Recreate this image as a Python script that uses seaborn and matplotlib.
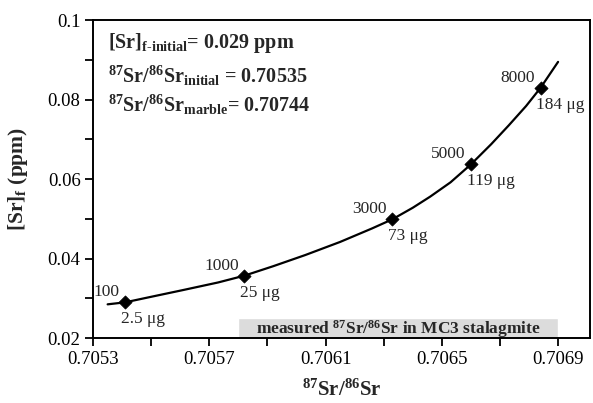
import matplotlib
matplotlib.use('Agg')
import matplotlib.pyplot as plt
from matplotlib.ticker import FixedLocator, FormatStrFormatter, MultipleLocator
import pandas as pd
import seaborn as sns

# mixing curve
curve_ratio = [0.70535, 0.70541, 0.70550, 0.70561, 0.70573, 0.70582, 0.70592,
               0.70603, 0.70615, 0.70626, 0.70633, 0.70640, 0.70646, 0.70653,
               0.70660, 0.70667, 0.70673, 0.70679, 0.70684, 0.70690]
curve_sr = [0.0285, 0.0290, 0.0304, 0.0321, 0.0340, 0.0357, 0.0381,
            0.0409, 0.0442, 0.0476, 0.0499, 0.0528, 0.0556, 0.0592,
            0.0637, 0.0688, 0.0735, 0.0784, 0.0830, 0.0895]

# marked points
pt_ratio = [0.70541, 0.70582, 0.70633, 0.70660, 0.70684]
pt_sr = [0.0290, 0.0357, 0.0499, 0.0637, 0.0830]
pt_top = ['100', '1000', '3000', '5000', '8000']
pt_bottom = ['2.5 \u03bcg', '25 \u03bcg', '73 \u03bcg', '119 \u03bcg', '184 \u03bcg']

measured_range = [0.70580, 0.70690]

x_ticks = [0.7053, 0.7057, 0.7061, 0.7065, 0.7069]
x_minor = [0.7055, 0.7059, 0.7063, 0.7067]

sns.set_style('ticks')
plt.rcParams['font.family'] = ['Liberation Serif', 'DejaVu Serif']
plt.rcParams['mathtext.fontset'] = 'custom'
plt.rcParams['mathtext.rm'] = 'Liberation Serif:bold'
plt.rcParams['mathtext.bf'] = 'Liberation Serif:bold'
plt.rcParams['mathtext.it'] = 'Liberation Serif:bold'
plt.rcParams['mathtext.default'] = 'bf'

curve = pd.DataFrame({'ratio': curve_ratio, 'sr': curve_sr})
pts = pd.DataFrame({'ratio': pt_ratio, 'sr': pt_sr})

fig, ax = plt.subplots(figsize=(5.93, 4.03), dpi=100)
fig.subplots_adjust(left=0.157, right=0.995, top=0.95, bottom=0.161)

# measured range bar
ax.barh(0.0225, measured_range[1] - measured_range[0], left=measured_range[0],
        height=0.005, color='#dcdcdc', zorder=1)
ax.text((measured_range[0] + measured_range[1]) / 2, 0.0224,
        r'measured $^{87}$Sr/$^{86}$Sr in MC3 stalagmite',
        ha='center', va='center', fontsize=12.5, fontweight='bold', zorder=2)

sns.lineplot(data=curve, x='ratio', y='sr', ax=ax, color='black', lw=1.6,
             sort=False, zorder=3)
sns.scatterplot(data=pts, x='ratio', y='sr', ax=ax, marker='D', s=45,
                color='black', edgecolor='black', zorder=4)

for x, y, t, b in zip(pt_ratio, pt_sr, pt_top, pt_bottom):
    ax.annotate(t, (x, y), xytext=(-4, 1.5), textcoords='offset points',
                ha='right', va='bottom', fontsize=12.5)
    ax.annotate(b, (x, y), xytext=(-3, -6.5), textcoords='offset points',
                ha='left', va='top', fontsize=12.5)

ax.text(0.03, 0.911, r'[Sr]$_{f\text{-}initial}$= 0.029 ppm', transform=ax.transAxes,
        fontsize=14.5, fontweight='bold', va='baseline')
ax.text(0.03, 0.802, r'$^{87}$Sr/$^{86}$Sr$_{initial}$ = 0.70535', transform=ax.transAxes,
        fontsize=14.5, fontweight='bold', va='baseline')
ax.text(0.03, 0.712, r'$^{87}$Sr/$^{86}$Sr$_{marble}$= 0.70744', transform=ax.transAxes,
        fontsize=14.5, fontweight='bold', va='baseline')

ax.set_xlim(0.7053, 0.70701)
ax.set_ylim(0.02, 0.1)
ax.xaxis.set_major_locator(FixedLocator(x_ticks))
ax.xaxis.set_minor_locator(FixedLocator(x_minor))
ax.xaxis.set_major_formatter(FormatStrFormatter('%.4f'))
ax.yaxis.set_major_locator(MultipleLocator(0.02))
ax.yaxis.set_minor_locator(MultipleLocator(0.01))
ax.yaxis.set_major_formatter(FormatStrFormatter('%g'))
ax.tick_params(which='both', direction='out', length=5.5, width=1.3,
               labelsize=13.5, color='black', labelcolor='black')
ax.tick_params(which='both', top=False, right=False)
for s in ax.spines.values():
    s.set_visible(True)
    s.set_linewidth(1.4)
    s.set_color('black')

ax.set_xlabel(r'$^{87}$Sr/$^{86}$Sr', fontsize=15, fontweight='bold')
ax.set_ylabel(r'[Sr]$_f$ (ppm)', fontsize=15.5, fontweight='bold')
ax.xaxis.set_label_coords(0.5, -0.13)
ax.yaxis.set_label_coords(-0.127, 0.5)

fig.savefig('out.png', dpi=100)
